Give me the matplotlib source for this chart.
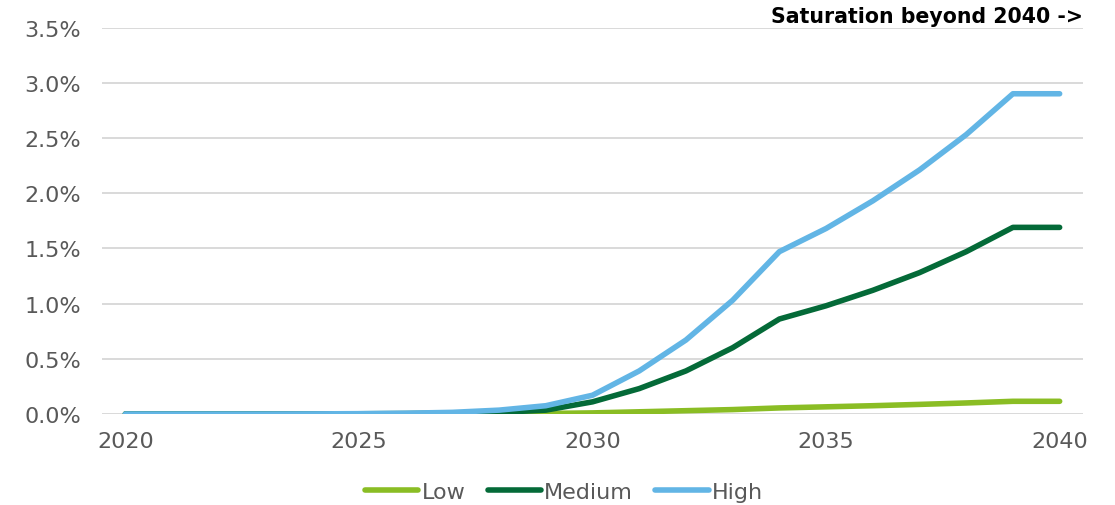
import matplotlib
matplotlib.use("Agg")
import matplotlib.pyplot as plt
from matplotlib.ticker import FuncFormatter, MultipleLocator

years = list(range(2020, 2041))
low = [0.0, 0.0, 0.0, 0.0, 0.0, 0.0, 0.0, 0.0, 0.002, 0.005, 0.01, 0.02, 0.03, 0.04, 0.055, 0.065, 0.075, 0.087, 0.10, 0.115, 0.115]
medium = [0.0, 0.0, 0.0, 0.0, 0.0, 0.002, 0.004, 0.008, 0.015, 0.035, 0.11, 0.23, 0.39, 0.60, 0.86, 0.98, 1.12, 1.28, 1.47, 1.69, 1.69]
high = [0.0, 0.0, 0.0, 0.0, 0.001, 0.003, 0.007, 0.015, 0.035, 0.075, 0.17, 0.39, 0.67, 1.03, 1.47, 1.68, 1.93, 2.21, 2.53, 2.90, 2.90]
series_names = ["Low", "Medium", "High"]
colors = ["#8aBD24", "#046A38", "#62B5E5"]

fig = plt.figure(figsize=(11.15, 5.06), dpi=100)
ax = fig.add_axes([102/1115, 91/506, (1083-102)/1115, (415-28.5)/506])

for vals, name, c in zip([low, medium, high], series_names, colors):
    ax.plot(years, vals, color=c, lw=4.0, label=name, solid_capstyle="round", solid_joinstyle="round")

ax.set_xlim(2019.5, 2040.5)
ax.set_ylim(0, 3.5)
ax.yaxis.set_major_locator(MultipleLocator(0.5))
ax.yaxis.set_major_formatter(FuncFormatter(lambda v, p: f"{v:.1f}%"))
ax.set_xticks([2020, 2025, 2030, 2035, 2040])
ax.grid(axis="y", color="#D9D9D9", lw=1.4)
ax.set_axisbelow(True)
for s in ax.spines.values():
    s.set_visible(False)
ax.tick_params(axis="both", length=0, labelsize=16, colors="#595959")
ax.tick_params(axis="y", pad=15)
ax.tick_params(axis="x", pad=12)

fig.text(1083/1115, 1 - 17/506, "Saturation beyond 2040 ->", ha="right", va="center",
         fontsize=14.8, fontweight="bold", color="black")

leg = fig.legend(*ax.get_legend_handles_labels(), loc="center", bbox_to_anchor=(564/1115, 1 - 493/506),
                 ncol=3, frameon=False, fontsize=16, handlelength=2.4, handletextpad=0.15,
                 columnspacing=1.0)
for t in leg.get_texts():
    t.set_color("#595959")

fig.savefig("out.png", dpi=100)
